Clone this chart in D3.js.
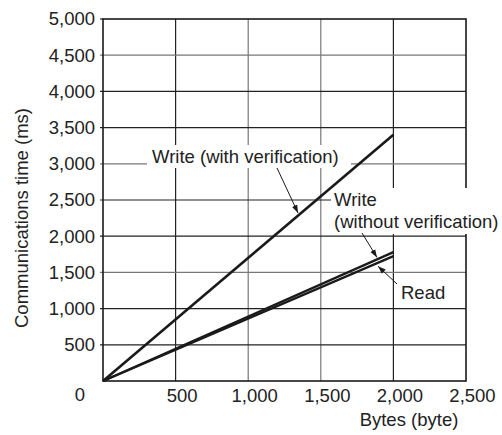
<!DOCTYPE html>
<html>
<head>
<meta charset="utf-8">
<script src="https://cdn.jsdelivr.net/npm/d3@7"></script>
<style>
  html, body { margin: 0; padding: 0; background: #fff; }
  svg { display: block; font-family: "Liberation Sans", Arial, Helvetica, sans-serif; }
</style>
</head>
<body>
<svg id="chart" width="502" height="435"></svg>
<script>
// ---- data ----
const bytes = [0, 2000];
const writeWithVerification = [0, 3400];
const writeWithoutVerification = [0, 1780];
const readTime = [0, 1725];
const xTicks = [500, 1000, 1500, 2000, 2500];
const yTicks = [500, 1000, 1500, 2000, 2500, 3000, 3500, 4000, 4500, 5000];
const xTitle = "Bytes (byte)";
const yTitle = "Communications time (ms)";
const labelWithVer = "Write (with verification)";
const labelWithoutVer = ["Write", "(without verification)"];
const labelRead = "Read";
// byte positions where annotation arrows touch the lines
const arrowAtWithVer = 1357;
const arrowAtWithoutVer = 1887;
const arrowAtRead = 1887;

// ---- layout ----
const FS = 18.5;
const svg = d3.select("#chart");
const x = d3.scaleLinear().domain([0, 2500]).range([103, 466]);
const y = d3.scaleLinear().domain([0, 5000]).range([381, 19]);
const ink = "#1a1a1a";
const grayV = new Set([1000, 1500]);
const grayH = new Set([4500, 3000, 1500]);

svg.append("defs").append("marker")
  .attr("id", "arr").attr("viewBox", "0 0 10 10")
  .attr("refX", 10).attr("refY", 5)
  .attr("markerWidth", 8).attr("markerHeight", 8)
  .attr("markerUnits", "userSpaceOnUse")
  .attr("orient", "auto")
  .append("path").attr("d", "M0,1.5 L10,5 L0,8.5 Z").attr("fill", ink);

// grid
const grid = svg.append("g");
grid.selectAll("line.v").data(xTicks.filter(d => d < 2500)).enter().append("line")
  .attr("x1", d => x(d)).attr("x2", d => x(d))
  .attr("y1", y(5000)).attr("y2", y(0))
  .attr("stroke", d => grayV.has(d) ? "#777" : "#222").attr("stroke-width", 1.2);
grid.selectAll("line.h").data(yTicks.filter(d => d < 5000)).enter().append("line")
  .attr("x1", x(0) - 3).attr("x2", x(2500))
  .attr("y1", d => y(d)).attr("y2", d => y(d))
  .attr("stroke", d => grayH.has(d) ? "#777" : "#222").attr("stroke-width", 1.2);
grid.append("line").attr("x1", x(0) - 3).attr("x2", x(0)).attr("y1", y(5000)).attr("y2", y(5000))
  .attr("stroke", "#222").attr("stroke-width", 1.2);

// frame
svg.append("rect")
  .attr("x", x(0)).attr("y", y(5000))
  .attr("width", x(2500) - x(0)).attr("height", y(0) - y(5000))
  .attr("fill", "none").attr("stroke", ink).attr("stroke-width", 1.6);

// label knock-out boxes
svg.append("rect").attr("x", 147).attr("y", 145).attr("width", 204).attr("height", 23).attr("fill", "#fff");
svg.append("rect").attr("x", 331).attr("y", 188).attr("width", 171).attr("height", 46).attr("fill", "#fff");

// axes
const yAxis = d3.axisLeft(y).tickValues(yTicks).tickFormat(d3.format(",")).tickSize(0).tickPadding(8);
const gy = svg.append("g").attr("transform", `translate(${x(0)},0)`).call(yAxis);
gy.select(".domain").remove();
gy.selectAll("text").attr("font-size", FS).attr("fill", "#222").attr("font-family", "inherit");

const xAxis = d3.axisBottom(x).tickValues(xTicks).tickFormat(d3.format(",")).tickSize(0).tickPadding(8);
const gx = svg.append("g").attr("transform", `translate(0,${y(0)})`).call(xAxis);
gx.select(".domain").remove();
gx.selectAll("text").attr("font-size", FS).attr("fill", "#222").attr("font-family", "inherit")
  .attr("dx", 6);

svg.append("text").attr("x", 80).attr("y", 401).attr("text-anchor", "middle")
  .attr("font-size", FS).attr("fill", "#222").text(d3.format(",")(0));

svg.append("text").attr("x", 409).attr("y", 426).attr("text-anchor", "middle")
  .attr("font-size", FS).attr("fill", "#222").text(xTitle);

svg.append("text").attr("transform", "translate(28,218) rotate(-90)")
  .attr("text-anchor", "middle").attr("font-size", FS).attr("fill", "#222").text(yTitle);

// data lines
const line = d3.line().x(d => x(d[0])).y(d => y(d[1]));
const series = [writeWithVerification, writeWithoutVerification, readTime];
svg.selectAll("path.series").data(series).enter().append("path")
  .attr("class", "series")
  .attr("d", s => line(bytes.map((b, i) => [b, s[i]])))
  .attr("fill", "none").attr("stroke", ink)
  .attr("stroke-width", (s, i) => i === 0 ? 2.6 : 2.3)
  .attr("stroke-linecap", "butt");

const interp = (s, b) => s[0] + (s[1] - s[0]) * (b - bytes[0]) / (bytes[1] - bytes[0]);

// annotations
const txt = (xx, yy, t) => svg.append("text").attr("x", xx).attr("y", yy)
  .attr("font-size", FS).attr("fill", "#222").text(t);
txt(152, 163, labelWithVer);
txt(334, 206, labelWithoutVer[0]);
txt(334, 228, labelWithoutVer[1]);
txt(401, 299, labelRead);

const arrow = (x1, y1, x2, y2) => svg.append("line")
  .attr("x1", x1).attr("y1", y1).attr("x2", x2).attr("y2", y2)
  .attr("stroke", ink).attr("stroke-width", 1).attr("marker-end", "url(#arr)");
arrow(277, 168, x(arrowAtWithVer) - 2, y(interp(writeWithVerification, arrowAtWithVer)) - 1);
arrow(362, 233, x(arrowAtWithoutVer), y(interp(writeWithoutVerification, arrowAtWithoutVer)) - 2);
arrow(397, 284, x(arrowAtRead) + 1, y(interp(readTime, arrowAtRead)) + 3);
</script>
</body>
</html>
